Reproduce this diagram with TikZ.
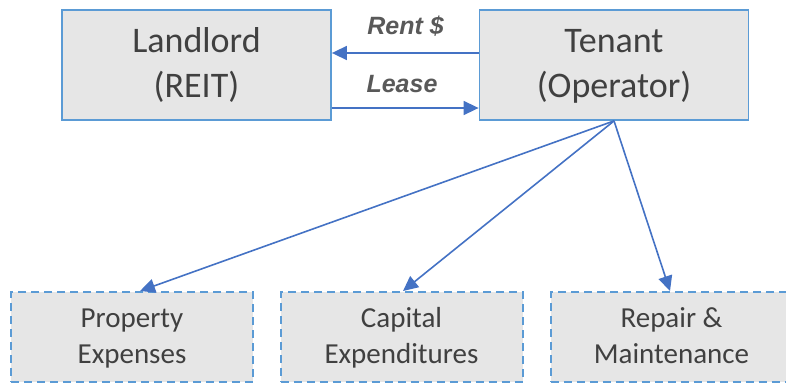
\documentclass[tikz,border=0pt]{standalone}
\usepackage{fontspec}
\setmainfont{Carlito}
\newfontfamily\labelfont{Liberation Sans}
\usetikzlibrary{arrows.meta}
\definecolor{boxfill}{HTML}{E6E6E6}
\definecolor{boxline}{HTML}{5B9BD5}
\definecolor{arrowblue}{HTML}{4472C4}
\definecolor{bodytext}{HTML}{404040}
\definecolor{labeltext}{HTML}{595959}
% uniform line metrics, so every line sits on the same grid
\newcommand{\ls}{\rule[-0.27\baselineskip]{0pt}{\baselineskip}}
\tikzset{
  partybox/.style={draw=boxline, line width=1.8pt, fill=boxfill, text=bodytext,
    align=center, font=\fontsize{36}{45}\selectfont, inner sep=0pt,
    minimum width=269pt, minimum height=110pt},
  costbox/.style={draw=boxline, line width=2pt, dash pattern=on 8pt off 5pt,
    fill=boxfill, text=bodytext, align=center,
    font=\fontsize{29}{36}\selectfont, inner sep=0pt,
    minimum width=242pt, minimum height=90pt},
  flow/.style={draw=arrowblue, line width=1.6pt,
    -{Triangle[length=15pt,width=14pt]}},
  flowlabel/.style={text=labeltext, anchor=base,
    font=\labelfont\bfseries\itshape\fontsize{25}{30}\selectfont}
}
\begin{document}
\begin{tikzpicture}[x=1pt,y=-1pt]
  \useasboundingbox (0,0) rectangle (786,383);
  \clip (0,0) rectangle (786,383);
  % parties
  \node[partybox] (landlord) at (196.5,65) {\ls Landlord\\\ls (REIT)};
  \node[partybox] (tenant) at (614,65) {\ls Tenant\\\ls (Operator)};
  % cost categories
  \node[costbox] (prop) at (132,337) {\ls Property\\\ls Expenses};
  \node[costbox] (capex) at (401.5,337) {\ls Capital\\\ls Expenditures};
  \node[costbox] (repair) at (671.5,337) {\ls Repair \&\\\ls Maintenance};
  % rent and lease flows
  \draw[flow] ([yshift=12pt]tenant.west) -- ([yshift=12pt]landlord.east);
  \draw[flow] ([yshift=-43pt]landlord.east) -- ([yshift=-43pt]tenant.west);
  \node[flowlabel] (rent) at (405.5,34) {Rent \$};
  \node[flowlabel] (lease) at (402,92) {Lease};
  % tenant obligations
  \draw[flow] (tenant.south) -- ([xshift=8pt]prop.north);
  \draw[flow] (tenant.south) -- ([xshift=1.5pt]capex.north);
  \draw[flow] (tenant.south) -- ([xshift=-1.5pt]repair.north);
\end{tikzpicture}
\end{document}
